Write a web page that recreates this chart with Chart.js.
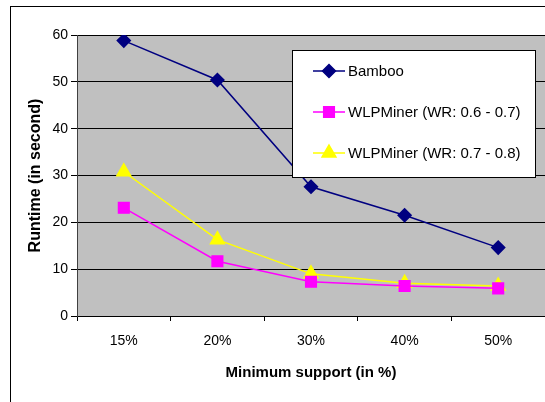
<!DOCTYPE html>
<html>
<head>
<meta charset="utf-8">
<script src="https://cdn.jsdelivr.net/npm/chart.js@4.4.0/dist/chart.umd.min.js"></script>
<style>
    html, body { margin: 0; padding: 0; background: #fff; overflow: hidden; }
    #wrap { width: 545px; height: 402px; }
    canvas { display: block; }
</style>
</head>
<body>
<div id="wrap"><canvas id="runtimeChart" width="545" height="402"></canvas></div>
<script>
// data
const supports = [`15%`, `20%`, `30%`, `40%`, `50%`];
const bamboo = [58.8, 50.4, 27.6, 21.5, 14.6];
const wlpLow = [23.1, 11.7, 7.3, 6.4, 5.9];
const wlpHigh = [30.8, 16.3, 9.0, 7.0, 6.4];
const seriesNames = [`Bamboo`, `WLPMiner (WR: 0.6 - 0.7)`, `WLPMiner (WR: 0.7 - 0.8)`];
const yTicks = [0, 10, 20, 30, 40, 50, 60];
//
const font = `"Liberation Sans", Arial, sans-serif`;

// frame, gray plot area and the boxed legend
const framePlugin = {
    id: `frame`,
    beforeDraw(chart) {
        const { ctx, chartArea } = chart;
        ctx.save();
        ctx.fillStyle = `#ffffff`;
        ctx.fillRect(0, 0, chart.width, chart.height);
        ctx.strokeStyle = `#000000`;
        ctx.lineWidth = 1;
        ctx.strokeRect(10.5, 6.5, chart.width + 20, chart.height + 20);
        ctx.fillStyle = `#c0c0c0`;
        ctx.fillRect(chartArea.left, chartArea.top, chartArea.right - chartArea.left, chartArea.bottom - chartArea.top);
        ctx.restore();
    },
    afterDraw(chart) {
        const { ctx } = chart;
        const box = { x: 292.5, y: 50.5, w: 243, h: 127 };
        ctx.save();
        ctx.fillStyle = `#ffffff`;
        ctx.fillRect(box.x, box.y, box.w, box.h);
        ctx.strokeStyle = `#000000`;
        ctx.lineWidth = 1;
        ctx.strokeRect(box.x, box.y, box.w, box.h);
        const rows = [71, 112, 153];
        chart.data.datasets.forEach((ds, i) => {
            const y = rows[i];
            ctx.strokeStyle = ds.borderColor;
            ctx.lineWidth = 1.5;
            ctx.beginPath();
            ctx.moveTo(313, y);
            ctx.lineTo(345, y);
            ctx.stroke();
            ctx.fillStyle = ds.pointBackgroundColor;
            ctx.strokeStyle = ds.pointBorderColor;
            Chart.helpers.drawPoint(ctx, {
                pointStyle: ds.pointStyle,
                radius: ds.pointRadius,
                rotation: 0,
                borderWidth: 1
            }, 329, y);
            ctx.fillStyle = `#000000`;
            ctx.font = `15px ${font}`;
            ctx.textBaseline = `middle`;
            ctx.textAlign = `left`;
            ctx.fillText(ds.label, 348, y + 1);
        });
        ctx.restore();
    }
};

new Chart(`runtimeChart`, {
    type: `line`,
    data: {
        labels: supports,
        datasets: [{
            label: seriesNames[0],
            data: bamboo,
            borderColor: `#000080`,
            borderWidth: 1.5,
            pointStyle: `rectRot`,
            pointRadius: 6.5,
            pointBackgroundColor: `#000080`,
            pointBorderColor: `#000080`
        }, {
            label: seriesNames[1],
            data: wlpLow,
            borderColor: `#ff00ff`,
            borderWidth: 1.5,
            pointStyle: `rect`,
            pointRadius: 7.5,
            pointBackgroundColor: `#ff00ff`,
            pointBorderColor: `#ff00ff`
        }, {
            label: seriesNames[2],
            data: wlpHigh,
            borderColor: `#ffff00`,
            borderWidth: 1.5,
            pointStyle: `triangle`,
            pointRadius: 8,
            pointBackgroundColor: `#ffff00`,
            pointBorderColor: `#ffff00`
        }]
    },
    options: {
        responsive: false,
        animation: false,
        layout: { autoPadding: false, padding: { left: 0, top: 35, right: 0, bottom: 0 } },
        plugins: {
            legend: { display: false },
            tooltip: { enabled: false }
        },
        scales: {
            x: {
                offset: true,
                grid: {
                    offset: true,
                    drawOnChartArea: false,
                    color: `#000000`,
                    tickLength: 5
                },
                border: { color: `#000000` },
                ticks: {
                    color: `#000000`,
                    font: { family: font, size: 14 },
                    padding: 12
                },
                title: {
                    display: true,
                    text: `Minimum support (in %)`,
                    color: `#000000`,
                    font: { family: font, size: 15, weight: `bold` },
                    padding: { top: 0, bottom: 20 }
                },
                afterFit(scale) {
                    scale.height = 86;
                    scale.paddingLeft = 0;
                    scale.paddingRight = 0;
                }
            },
            y: {
                min: 0,
                max: 60,
                afterBuildTicks(scale) { scale.ticks = yTicks.map(v => ({ value: v })); },
                grid: {
                    color: `#000000`,
                    tickLength: 6
                },
                border: { color: `#404040` },
                ticks: {
                    color: `#000000`,
                    font: { family: font, size: 14 },
                    padding: 3
                },
                title: {
                    display: true,
                    text: `Runtime (in second)`,
                    color: `#000000`,
                    font: { family: font, size: 16, weight: `bold` },
                    padding: { top: 26, bottom: 0 }
                },
                afterFit(scale) {
                    scale.width = 77;
                    scale.paddingTop = 0;
                    scale.paddingBottom = 0;
                }
            }
        }
    },
    plugins: [framePlugin]
});
</script>
</body>
</html>
